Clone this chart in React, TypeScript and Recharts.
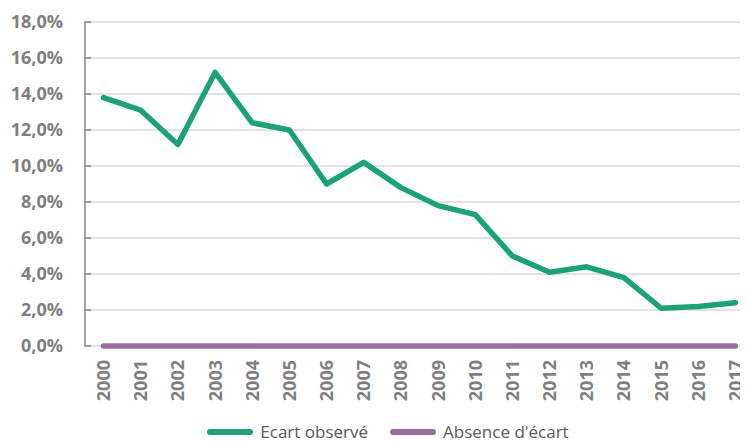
import {
  LineChart,
  Line,
  XAxis,
  YAxis,
  CartesianGrid,
  Legend,
} from "recharts";

const years = [
  2000, 2001, 2002, 2003, 2004, 2005, 2006, 2007, 2008, 2009, 2010, 2011, 2012,
  2013, 2014, 2015, 2016, 2017,
];
const ecartObserve = [
  13.8, 13.1, 11.2, 15.2, 12.4, 12.0, 9.0, 10.2, 8.8, 7.8, 7.3, 5.0, 4.1, 4.4,
  3.8, 2.1, 2.2, 2.4,
];
const absenceEcart = years.map(() => 0);
const yTicks = [0, 2, 4, 6, 8, 10, 12, 14, 16, 18];
const boundaryTicks = [...years.map((y) => y - 0.5), 2017.5];

const GREEN = "#1ba27a";
const PURPLE = "#9a6f9f";
const AXIS_TEXT = "#7f7f7f";
const FONT = "'Open Sans', sans-serif";

const data = years.map((year, i) => ({
  year,
  ecart: ecartObserve[i],
  absence: absenceEcart[i],
}));

const fmt = (v: number) => `${v.toFixed(1).replace(".", ",")}%`;

function YTick({ x, y, payload }: any) {
  return (
    <g>
      <line x1={x + 21} x2={x + 28} y1={y} y2={y} stroke="#898989" strokeWidth={1.5} />
      <text
        x={x}
        y={y}
        dy="0.35em"
        textAnchor="end"
        fill={AXIS_TEXT}
        fontFamily={FONT}
        fontWeight={700}
        fontSize={18}
      >
        {fmt(payload.value)}
      </text>
    </g>
  );
}

function XTick({ x, y, payload }: any) {
  return (
    <g transform={`translate(${x},${y})`}>
      <text
        x={0}
        y={0}
        dy="0.36em"
        textAnchor="end"
        transform="rotate(-90)"
        fill={AXIS_TEXT}
        fontFamily={FONT}
        fontWeight={700}
        fontSize={18}
      >
        {payload.value}
      </text>
    </g>
  );
}

function LegendContent() {
  const items = [
    { label: "Ecart observé", color: GREEN },
    { label: "Absence d'écart", color: PURPLE },
  ];
  return (
    <div
      style={{
        boxSizing: "border-box",
        display: "flex",
        justifyContent: "center",
        alignItems: "center",
        height: 25,
        paddingTop: 6,
        paddingLeft: 14,
        fontFamily: FONT,
        fontSize: 17,
        lineHeight: "18px",
        color: "#595959",
      }}
    >
      {items.map((it) => (
        <div key={it.label} style={{ display: "flex", alignItems: "center", margin: "0 11px" }}>
          <span
            style={{
              display: "inline-block",
              width: 46,
              height: 6,
              borderRadius: 3,
              background: it.color,
              marginRight: 7,
            }}
          />
          <span>{it.label}</span>
        </div>
      ))}
    </div>
  );
}

export default function App() {
  return (
    <div style={{ width: 740, height: 433, overflow: "hidden" }}>
      <LineChart
        width={755}
        height={433}
        data={data}
        margin={{ top: 14, right: 9, left: 0, bottom: 0 }}
      >
        <CartesianGrid vertical={false} stroke="#d9d9d9" strokeWidth={1.5} />
        <XAxis
          xAxisId="b"
          dataKey="year"
          type="number"
          domain={[1999.5, 2017.5]}
          ticks={boundaryTicks}
          tick={false}
          tickSize={5}
          tickLine={{ stroke: "#d9d9d9", strokeWidth: 1.5 }}
          axisLine={{ stroke: "#d9d9d9", strokeWidth: 1.5 }}
          height={0}
        />
        <XAxis
          xAxisId="main"
          dataKey="year"
          type="number"
          domain={[1999.5, 2017.5]}
          ticks={years}
          interval={0}
          tick={<XTick />}
          tickLine={false}
          axisLine={false}
          tickSize={0}
          tickMargin={14}
          height={70}
        />
        <YAxis
          domain={[0, 18]}
          ticks={yTicks}
          interval={0}
          width={77}
          tick={<YTick />}
          tickLine={false}
          tickSize={0}
          tickMargin={22}
          axisLine={{ stroke: "#898989", strokeWidth: 1.5 }}
        />
        <Legend verticalAlign="bottom" height={25} content={<LegendContent />} />
        <Line
          xAxisId="main"
          dataKey="ecart"
          name="Ecart observé"
          stroke={GREEN}
          strokeWidth={5.5}
          strokeLinecap="round"
          strokeLinejoin="round"
          dot={false}
          isAnimationActive={false}
        />
        <Line
          xAxisId="main"
          dataKey="absence"
          name="Absence d'écart"
          stroke={PURPLE}
          strokeWidth={5.5}
          strokeLinecap="round"
          strokeLinejoin="round"
          dot={false}
          isAnimationActive={false}
        />
      </LineChart>
    </div>
  );
}
